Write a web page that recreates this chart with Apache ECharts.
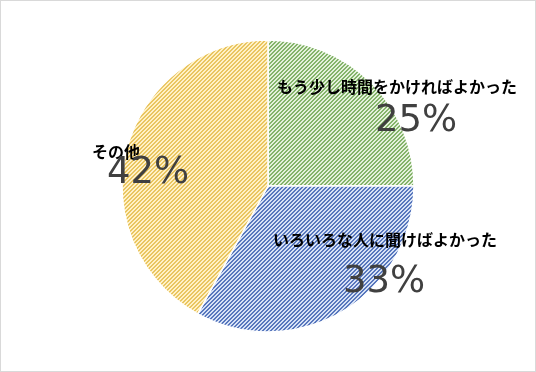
<!DOCTYPE html>
<html><head><meta charset="utf-8">
<script src="https://cdn.jsdelivr.net/npm/echarts@6/dist/echarts.min.js"></script>
<style>
html,body{margin:0;padding:0;background:#fff}
#c{position:absolute;left:0;top:0;width:536px;height:372px}
#f{position:absolute;left:0;top:0;width:536px;height:372px;box-sizing:border-box;border:1px solid #d9d9d9;pointer-events:none}
</style>
</head><body><div id="c"></div><div id="f"></div><script>
// ---- data ----
const categories = ['もう少し時間をかければよかった', 'いろいろな人に聞けばよかった', 'その他'];
const values = [25, 33, 42];
const percentLabels = ['25%', '33%', '42%'];

// ---- styles / layout ----
const patternColors = [
  { fg: '#84b36a', bg: '#e4f1db' },
  { fg: '#5877bd', bg: '#d7e2f6' },
  { fg: '#e9c560', bg: '#fff1c6' }
];
const namePos = [[277, 87], [273, 240], [92, 152]];
const pctPos = [[375, 121], [343, 282], [107, 173]];

function makePattern(fg, bg) {
  const c = document.createElement('canvas');
  c.width = 4; c.height = 4;
  const ctx = c.getContext('2d');
  ctx.fillStyle = bg; ctx.fillRect(0, 0, 4, 4);
  ctx.fillStyle = fg;
  for (let x = 0; x < 4; x++) for (let y = 0; y < 4; y++) {
    const k = (x + y) % 4;
    if (k === 0 || k === 1) ctx.fillRect(x, y, 1, 1);
  }
  return { image: c, repeat: 'repeat' };
}

const chart = echarts.init(document.getElementById('c'), null, { renderer: 'canvas' });
const sliceData = categories.map((n, i) => ({
  name: n, value: values[i],
  itemStyle: { color: makePattern(patternColors[i].fg, patternColors[i].bg) }
}));
const pctData = categories.map((n, i) => ({ name: percentLabels[i], value: values[i] }));

chart.setOption({
  animation: false,
  series: [
    {
      type: 'pie', center: [268, 186], radius: [0, 146], startAngle: 90, clockwise: true,
      data: sliceData,
      itemStyle: { borderColor: '#ffffff', borderWidth: 1.5 },
      label: { show: true, position: 'inside', formatter: '{b}', color: '#000000',
        fontSize: 16, fontWeight: 'bold', fontFamily: 'Noto Sans CJK JP' },
      labelLine: { show: false },
      labelLayout: function (p) {
        const q = namePos[p.dataIndex];
        return { x: q[0], y: q[1], align: 'left', verticalAlign: 'middle' };
      },
      emphasis: { disabled: true }
    },
    {
      type: 'pie', center: [268, 186], radius: [0, 146], startAngle: 90, clockwise: true,
      silent: true, data: pctData,
      itemStyle: { color: 'rgba(0,0,0,0)', borderWidth: 0 },
      label: { show: true, position: 'inside', formatter: '{b}', color: '#404040',
        fontSize: 37, fontFamily: 'DejaVu Sans' },
      labelLine: { show: false },
      labelLayout: function (p) {
        const q = pctPos[p.dataIndex];
        return { x: q[0], y: q[1], align: 'left', verticalAlign: 'middle' };
      },
      emphasis: { disabled: true }
    }
  ]
});
</script></body></html>
